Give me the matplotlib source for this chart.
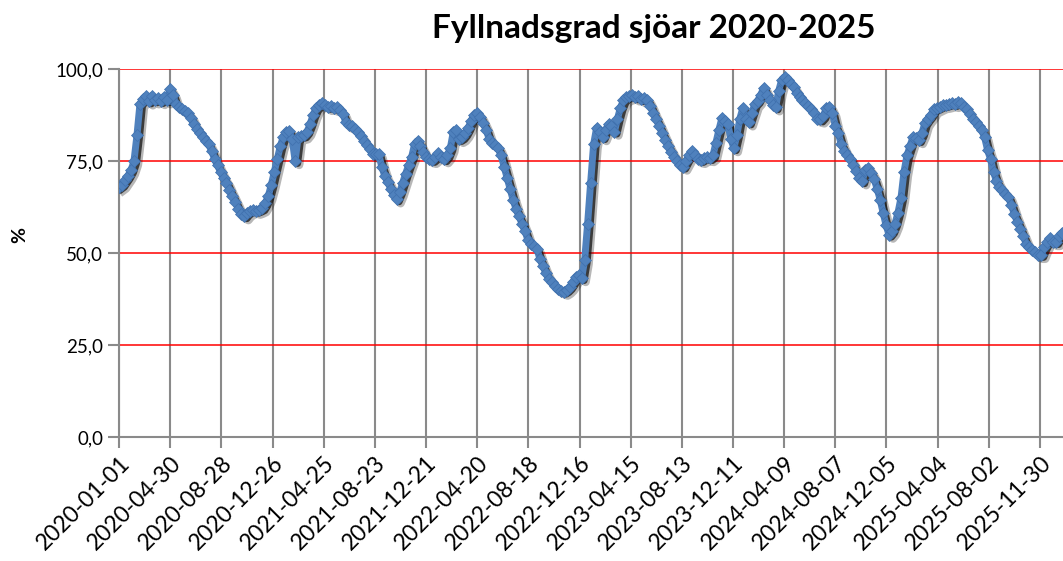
import numpy as np
import pandas as pd
import matplotlib
matplotlib.use('Agg')
import matplotlib.pyplot as plt
from matplotlib.transforms import offset_copy

# weekly readings of fill level (%), starting 2020-01-01
start_date = '2020-01-01'
fill_pct = [
    68.0, 68.6, 69.8, 71.0, 72.5, 75.0, 82.0, 90.5, 91.8, 92.6,
    91.2, 92.8, 91.5, 92.0, 91.3, 92.5, 91.5, 94.5, 93.0, 90.5,
    89.8, 89.2, 88.5, 88.0, 86.8, 85.0, 83.6, 82.5, 81.5, 80.5,
    79.5, 77.8, 75.5, 73.8, 72.0, 70.3, 69.0, 67.2, 65.5, 63.8,
    62.0, 60.5, 60.0, 61.0, 61.5, 61.8, 61.5, 61.8, 62.2, 63.5,
    65.5, 68.5, 72.0, 75.5, 79.0, 81.5, 83.0, 83.2, 81.0, 75.0,
    81.5, 81.8, 82.0, 83.0, 85.0, 87.5, 89.3, 90.2, 90.8, 90.3,
    89.7, 89.9, 89.5, 89.6, 88.8, 87.8, 85.5, 84.8, 84.6, 83.8,
    82.8, 81.8, 80.5, 79.3, 78.2, 76.8, 77.0, 76.8, 73.5, 71.0,
    69.3, 67.5, 65.8, 64.6, 66.5, 69.0, 71.5, 73.8, 76.0, 79.5,
    80.5, 79.0, 77.5, 76.2, 75.5, 75.3, 76.0, 77.2, 76.0, 75.5,
    76.5, 78.5, 83.0, 83.5, 81.0, 81.5, 82.5, 84.0, 86.0, 87.5,
    88.0, 87.0, 85.3, 83.5, 81.0, 80.0, 79.3, 78.5, 76.5, 73.5,
    70.5, 67.5, 64.5, 62.0, 60.0, 58.0, 56.0, 53.5, 52.5, 52.0,
    51.0, 48.5, 46.5, 44.5, 43.0, 42.0, 41.0, 40.3, 39.8, 39.5,
    40.0, 40.8, 42.0, 43.5, 44.0, 43.2, 48.0, 58.0, 69.0, 79.5,
    84.0, 83.0, 81.5, 83.5, 85.0, 84.5, 83.0, 86.5, 89.5, 91.5,
    92.4, 92.6, 92.9, 92.3, 92.6, 91.8, 92.0, 91.6, 90.0, 88.0,
    86.3, 84.5, 82.5, 80.7, 79.0, 77.5, 76.0, 75.0, 74.0, 73.5,
    75.0, 76.5, 77.8, 76.5, 75.5, 75.3, 75.8, 76.0, 75.8, 76.5,
    80.0, 83.5, 86.7, 86.0, 85.0, 81.0, 78.5, 82.0, 86.5, 89.4,
    86.5, 85.5, 88.0, 90.5, 91.4, 93.0, 94.8, 93.0, 91.5, 90.3,
    89.6, 94.0, 97.0, 97.8, 97.0, 96.0, 95.0, 93.5, 92.4, 91.5,
    90.8, 90.0, 89.0, 88.0, 86.5, 86.3, 87.2, 89.5, 89.8, 88.0,
    84.5, 82.5, 79.5, 77.8, 76.5, 75.5, 74.0, 72.2, 70.5, 69.5,
    72.5, 73.0, 71.7, 70.0, 67.5, 64.5, 61.0, 57.5, 55.0, 56.0,
    58.0, 61.0, 65.0, 72.0, 76.5, 79.0, 81.5, 81.2, 80.7, 82.5,
    85.3, 86.5, 87.5, 89.0, 89.4, 89.8, 90.2, 90.3, 90.5, 90.8,
    90.5, 91.0, 90.8, 89.8, 89.0, 87.8, 86.5, 85.5, 84.5, 83.4,
    81.5, 78.0, 75.5, 72.0, 69.5, 68.0, 67.0, 66.0, 65.2, 63.0,
    60.5, 58.5, 56.5, 54.5, 52.5, 51.5, 50.8, 50.3, 49.5, 49.5,
    51.5, 53.0, 54.0, 53.0, 53.0, 54.5, 55.5,
]
tick_labels = ['2020-01-01', '2020-04-30', '2020-08-28', '2020-12-26', '2021-04-25',
               '2021-08-23', '2021-12-21', '2022-04-20', '2022-08-18', '2022-12-16',
               '2023-04-15', '2023-08-13', '2023-12-11', '2024-04-09', '2024-08-07',
               '2024-12-05', '2025-04-04', '2025-08-02', '2025-11-30']
y_ticks = [0, 25, 50, 75, 100]

plt.rcParams['font.family'] = ['Lato', 'DejaVu Sans']

dates = pd.date_range(start_date, periods=len(fill_pct), freq='7D')
tick_pos = pd.to_datetime(tick_labels)

fig = plt.figure(figsize=(10.63, 5.61), dpi=100)
ax = fig.add_axes([0.112, 0.221, 0.888, 0.656])

for t in tick_pos:
    ax.axvline(t, color='#8a8a8a', lw=1.5, zorder=1)
for v in y_ticks[1:]:
    ax.axhline(v, color='#ff0000', lw=1.1, zorder=2)

# drop shadow under the series
for d, a, w in [(4, 0.3, 6), (2.5, 0.75, 5)]:
    tr = offset_copy(ax.transData, fig=fig, x=d, y=-d, units='dots')
    ax.plot(dates, fill_pct, '-', lw=w, color='#111111', alpha=a,
            solid_joinstyle='round', transform=tr, zorder=3)
ax.plot(dates, fill_pct, '-', lw=5, color='#4f81bd', solid_joinstyle='round', zorder=4)
ax.plot(dates, fill_pct, 'D', ms=6.5, color='#4f81bd', mec='#3f70ad', mew=0.5, zorder=5)

ax.set_xlim(pd.Timestamp(start_date), pd.Timestamp(start_date) + pd.Timedelta(days=2214))
ax.set_ylim(0, 100)
ax.set_yticks(y_ticks)
ax.set_yticklabels([f'{v:.1f}'.replace('.', ',') for v in y_ticks], fontsize=13.5)
ax.set_xticks(tick_pos)
ax.set_xticklabels(tick_labels, rotation=45, ha='right', va='top',
                   rotation_mode='anchor', fontsize=16.5)
ax.tick_params(axis='both', color='#8a8a8a', width=1.5, length=8)
ax.tick_params(axis='x', pad=3)

for s in ['top', 'right']:
    ax.spines[s].set_visible(False)
for s in ['left', 'bottom']:
    ax.spines[s].set_color('#8a8a8a')
    ax.spines[s].set_linewidth(1.5)

fig.text(0.019, 0.581, '%', ha='center', va='center', rotation=90,
         fontsize=14, fontweight='bold')
fig.text(0.615, 0.95, 'Fyllnadsgrad sjöar 2020-2025', ha='center', va='center',
         fontsize=24, fontweight='bold')

fig.savefig('out.png', dpi=100)
